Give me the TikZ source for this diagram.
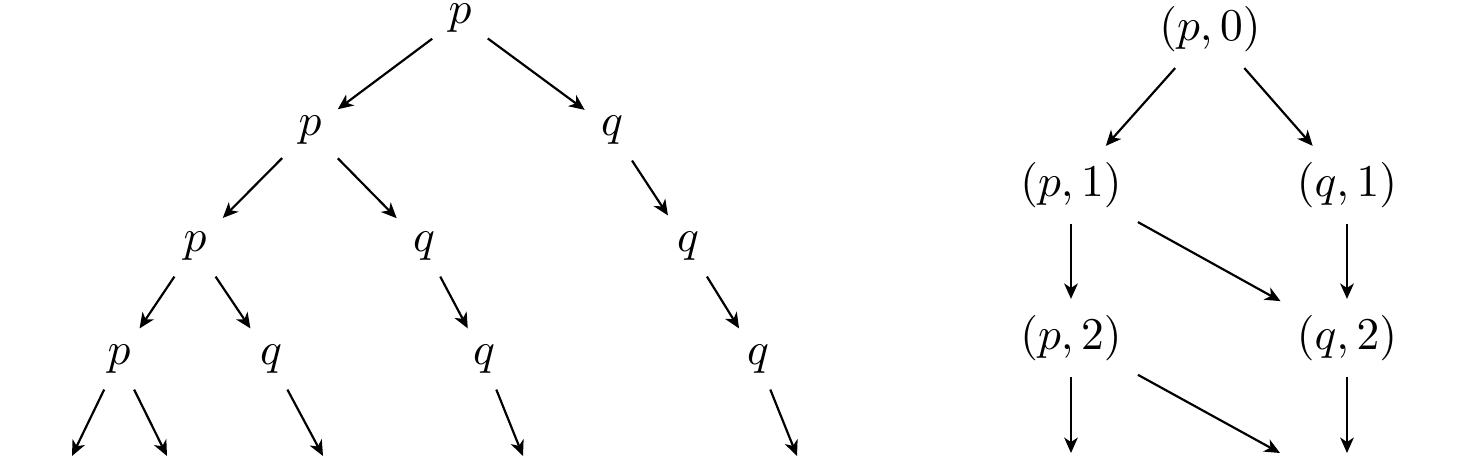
\documentclass[tikz,border=0pt]{standalone}
\usetikzlibrary{arrows.meta}
\begin{document}
\begin{tikzpicture}[x=0.22pt,y=-0.22pt,
  st/.style={inner sep=3.6pt, outer sep=0pt},
  arr/.style={-{Stealth[length=3.4pt,width=3pt,inset=1pt]}, line width=0.48pt}]
\useasboundingbox (0,0) rectangle (1475,462);
% tree
\node[st] (r) at (460,18) {$p$};
\node[st] (a) at (310,130) {$p$};
\node[st] (b) at (612,130) {$q$};
\node[st] (c) at (195,246) {$p$};
\node[st] (d) at (424,246) {$q$};
\node[st] (e) at (688,246) {$q$};
\node[st] (f) at (119,359) {$p$};
\node[st] (g) at (271,359) {$q$};
\node[st] (h) at (484,359) {$q$};
\node[st] (i) at (758,359) {$q$};
\coordinate (f1) at (72,456);
\coordinate (f2) at (167,456);
\coordinate (g1) at (323,456);
\coordinate (h1) at (523,456);
\coordinate (i1) at (797,456);
\draw[arr] (r) -- (a);
\draw[arr] (r) -- (b);
\draw[arr] (a) -- (c);
\draw[arr] (a) -- (d);
\draw[arr] (b) -- (e);
\draw[arr] (c) -- (f);
\draw[arr] (c) -- (g);
\draw[arr] (d) -- (h);
\draw[arr] (e) -- (i);
\draw[arr] (f) -- (f1);
\draw[arr] (f) -- (f2);
\draw[arr] (g) -- (g1);
\draw[arr] (h) -- (h1);
\draw[arr] (i) -- (i1);
% right graph
\node[st] (p0) at (1210,29) {$(p,0)$};
\node[st] (p1) at (1071,185) {$(p,1)$};
\node[st] (q1) at (1347,185) {$(q,1)$};
\node[st] (p2) at (1071,338) {$(p,2)$};
\node[st] (q2) at (1347,338) {$(q,2)$};
\coordinate (e1) at (1071,453);
\coordinate (e2) at (1280,453);
\coordinate (e3) at (1347,453);
\draw[arr] (p0) -- (p1);
\draw[arr] (p0) -- (q1);
\draw[arr] (p1) -- (p2);
\draw[arr] (p1) -- (q2);
\draw[arr] (q1) -- (q2);
\draw[arr] (p2) -- (e1);
\draw[arr] (p2) -- (e2);
\draw[arr] (q2) -- (e3);
\end{tikzpicture}
\end{document}
